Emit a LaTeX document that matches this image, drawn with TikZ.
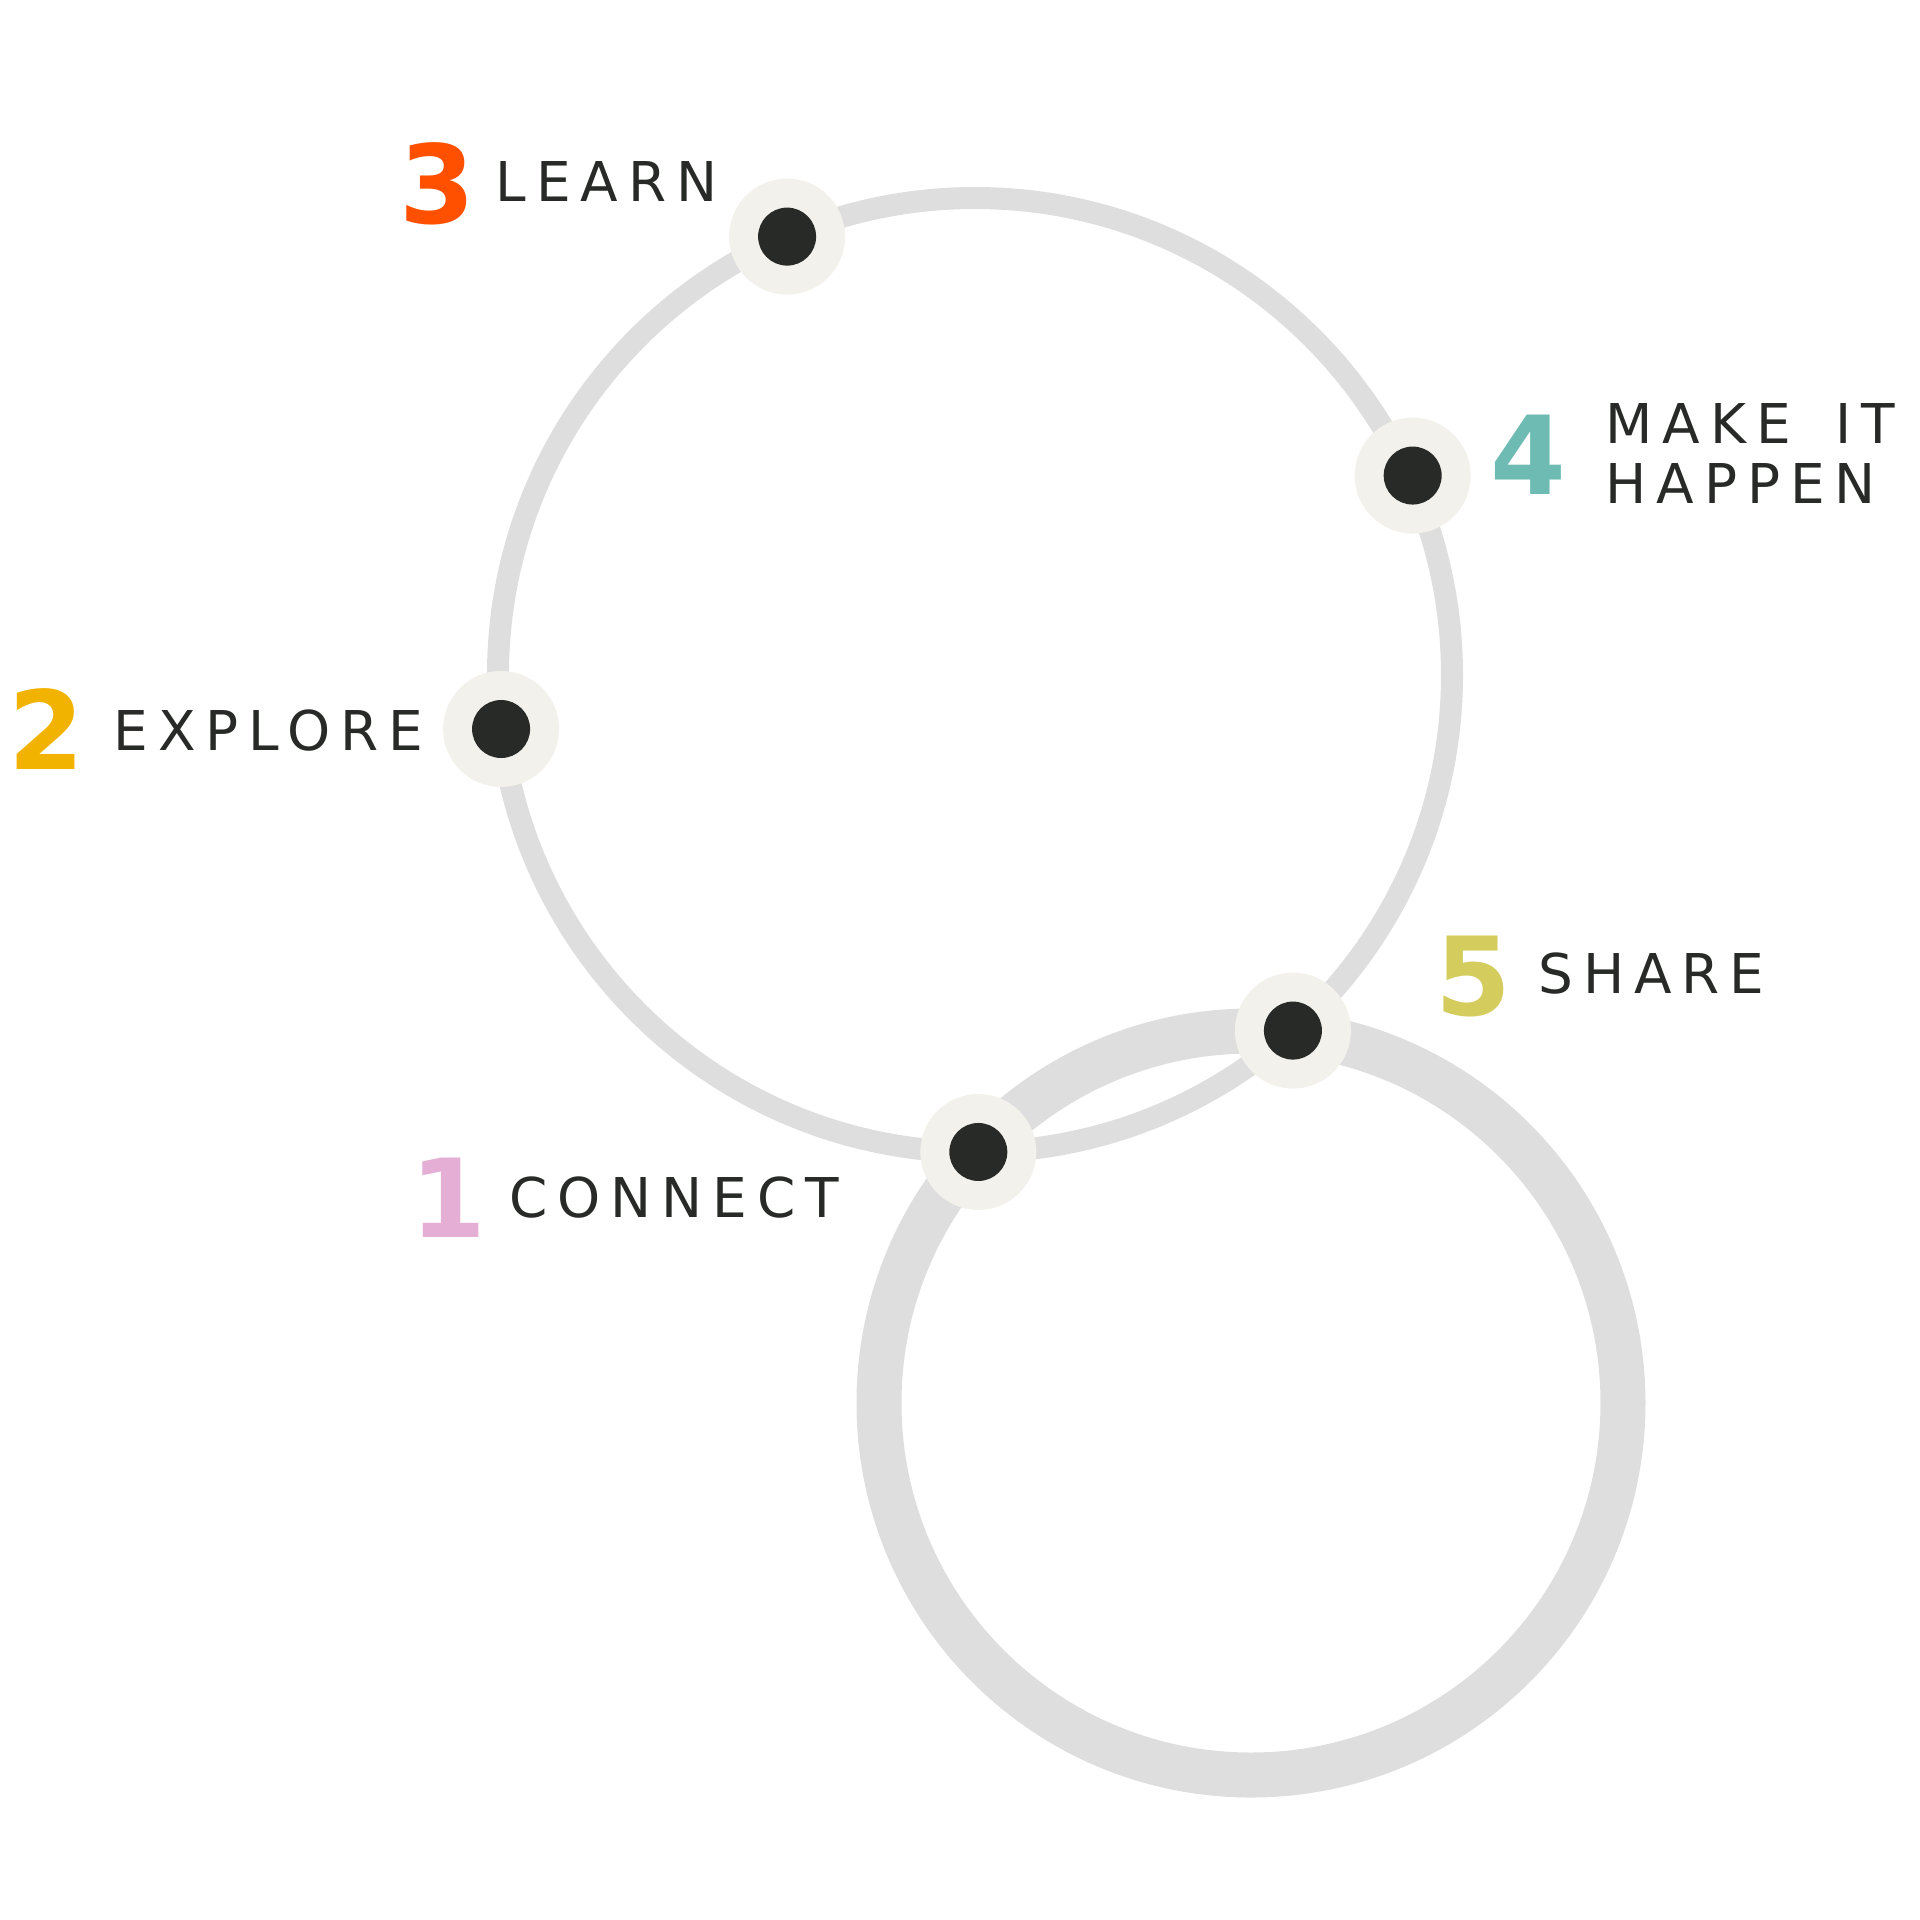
\documentclass[tikz,border=0pt]{standalone}
\usepackage{fontspec}
\usetikzlibrary{calc}
\setmainfont{DejaVu Sans}
\newfontfamily\numfont{DejaVu Sans Bold}
\newfontfamily\labfont[LetterSpace=18]{DejaVu Sans}
\definecolor{ringgrey}{HTML}{DEDEDE}
\definecolor{dotouter}{HTML}{F2F1EC}
\definecolor{dotinner}{HTML}{282A28}
\definecolor{txt}{HTML}{282A28}
\definecolor{cone}{HTML}{E5AFD5}
\definecolor{ctwo}{HTML}{F2B300}
\definecolor{cthree}{HTML}{FF5000}
\definecolor{cfour}{HTML}{6DBBB2}
\definecolor{cfive}{HTML}{D4CC5C}
\tikzset{
  numlabel/.style={anchor=base west, inner sep=0pt, font=\numfont\fontsize{31pt}{37pt}\selectfont},
  steplabel/.style={anchor=base west, inner sep=0pt, text=txt, font=\labfont\fontsize{15.6pt}{18pt}\selectfont},
}
\begin{document}
\begin{tikzpicture}[x=0.01cm,y=-0.01cm]
\useasboundingbox (0,0) rectangle (1920,1920);
% rings
\coordinate (bigc) at (975,675);
\coordinate (lowc) at (1251,1403);
\draw[ringgrey, line width=12.8pt] (lowc) circle[radius=372];
\draw[ringgrey, line width=6.26pt] (bigc) circle[radius=477];
% dots
\foreach \n/\a/\r in {d1/-89.6/477, d5/-48.2/477, d4/24.5/481, d3/113.2/477, d2/186.5/477}{
  \coordinate (\n) at ($(bigc)+({\r*cos(\a)},{-\r*sin(\a)})$);
}
\foreach \n in {d1,d2,d3,d4,d5}{
  \fill[dotouter] (\n) circle[radius=58];
  \fill[dotinner] (\n) circle[radius=29];
}
% labels
\node[numlabel, text=cthree] (n3) at (399,223) {3};
\node[steplabel] (l3) at (495,201) {LEARN};
\node[numlabel, text=ctwo] (n2) at (8,769) {2};
\node[steplabel] (l2) at (113,750) {EXPLORE};
\node[numlabel, text=cone] (n1) at (410,1237) {1};
\node[steplabel] (l1) at (509,1217) {CONNECT};
\node[numlabel, text=cfour] (n4) at (1490,494) {4};
\node[steplabel] (l4a) at (1605,443) {MAKE \hspace{4.9pt}IT};
\node[steplabel] (l4b) at (1605,503) {HAPPEN};
\node[numlabel, text=cfive] (n5) at (1435,1015) {5};
\node[steplabel] (l5) at (1538,993) {SHARE};
\end{tikzpicture}
\end{document}
